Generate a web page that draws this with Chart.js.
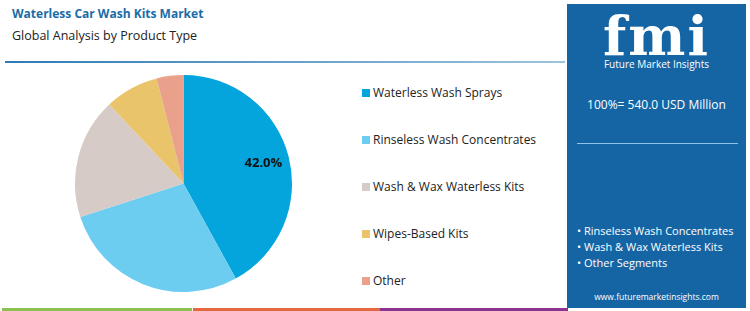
<!DOCTYPE html>
<html>
<head>
<meta charset="utf-8">
<script src="https://cdn.jsdelivr.net/npm/chart.js@4.4.1/dist/chart.umd.min.js"></script>
<style>
  body { margin: 0; width: 750px; height: 311px; position: relative; overflow: hidden; background: #fff; font-family: "Open Sans", sans-serif; }
  .title { position: absolute; left: 12px; top: 5px; font-size: 12px; font-weight: 700; color: #1a6ca8; }
  .subtitle { position: absolute; left: 12px; top: 27px; font-size: 12.5px; color: #222; }
  .rule { position: absolute; left: 5px; top: 61px; width: 560px; height: 2px; background: linear-gradient(to right, #2f7bb4, #9ec3dd); }
  #chartBox { position: absolute; left: 72px; top: 72px; width: 223px; height: 223px; }
  .legend { position: absolute; left: 362px; top: 0; }
  .legend div { position: absolute; white-space: nowrap; font-size: 12px; color: #222; }
  .legend span { display: inline-block; width: 8px; height: 8px; margin-right: 3px; vertical-align: 0px; }
  .panel { position: absolute; left: 567px; top: 4px; width: 179px; height: 304px; background: #1565a5; color: #fff; }
  .logo { position: absolute; left: 0; width: 179px; top: 0px; text-align: center; font-family: "DejaVu Serif", serif; font-weight: 700; font-size: 54px; letter-spacing: 2px; }
  .fmiName { position: absolute; left: 0; width: 179px; top: 53px; text-align: center; font-size: 10px; }
  .total { position: absolute; left: 0; width: 179px; top: 92px; text-align: center; font-size: 12px; }
  .line { position: absolute; left: 10px; top: 139px; width: 161px; height: 1px; background: #8fc3ea; }
  .bullets { position: absolute; left: 10px; top: 219px; font-size: 11px; line-height: 16px; white-space: nowrap; }
  .url { position: absolute; left: 0; width: 179px; top: 287px; text-align: center; font-size: 8.5px; }
  .bar { position: absolute; top: 308px; height: 3px; }
</style>
</head>
<body>
<div class="title">Waterless Car Wash Kits Market</div>
<div class="subtitle">Global Analysis by Product Type</div>
<div class="rule"></div>
<div id="chartBox"><canvas id="pieChart"></canvas></div>
<div class="legend" id="legend"></div>
<div class="panel">
  <div class="logo">fmi</div>
  <div class="fmiName">Future Market Insights</div>
  <div class="total">100%= 540.0 USD Million</div>
  <div class="line"></div>
  <div class="bullets">• Rinseless Wash Concentrates<br>• Wash &amp; Wax Waterless Kits<br>• Other Segments</div>
  <div class="url">www.futuremarketinsights.com</div>
</div>
<div class="bar" style="left:2px;width:190px;background:#8cc152"></div>
<div class="bar" style="left:193px;width:187px;background:#e5673f"></div>
<div class="bar" style="left:380px;width:188px;background:#8b3590"></div>

<script>
// Product type shares (%)
const categories = ["Waterless Wash Sprays", "Rinseless Wash Concentrates", "Wash & Wax Waterless Kits", "Wipes-Based Kits", "Other"];
const shares = [42, 28, 18, 8, 4];
const colors = ["#03a5dc", "#6dcdf1", "#d6cbc7", "#e9c46a", "#e9a18b"];

// legend on the right
const legend = document.getElementById("legend");
categories.forEach((c, i) => {
   let d = document.createElement("div");
   d.style.top = (84 + i * 47) + "px";
   d.innerHTML = '<span style="background:' + colors[i] + '"></span>' + c.replace("&", "&amp;");
   legend.appendChild(d);
});

// draw the value on the biggest slice only
const sliceLabel = {
   id: "sliceLabel",
   afterDatasetsDraw(chart) {
      const arc = chart.getDatasetMeta(0).data[0];
      const mid = (arc.startAngle + arc.endAngle) / 2;
      const r = arc.outerRadius * 0.76;
      const ctx = chart.ctx;
      ctx.save();
      ctx.font = "bold 13px 'Open Sans'";
      ctx.fillStyle = "#111";
      ctx.textAlign = "center";
      ctx.textBaseline = "middle";
      ctx.fillText(shares[0].toFixed(1) + "%", arc.x + Math.cos(mid) * r, arc.y + Math.sin(mid) * r);
      ctx.restore();
   }
};

let ctx = document.getElementById("pieChart").getContext("2d");
let pieChart = new Chart(ctx, {
   type: "pie",
   data: {
      labels: categories,
      datasets: [{
         data: shares,
         backgroundColor: colors,
         borderWidth: 0
      }]
   },
   options: {
      responsive: true,
      maintainAspectRatio: false,
      animation: false,
      layout: { padding: 3 },
      plugins: {
         legend: { display: false },
         tooltip: { enabled: false }
      }
   },
   plugins: [sliceLabel]
});
</script>
</body>
</html>
